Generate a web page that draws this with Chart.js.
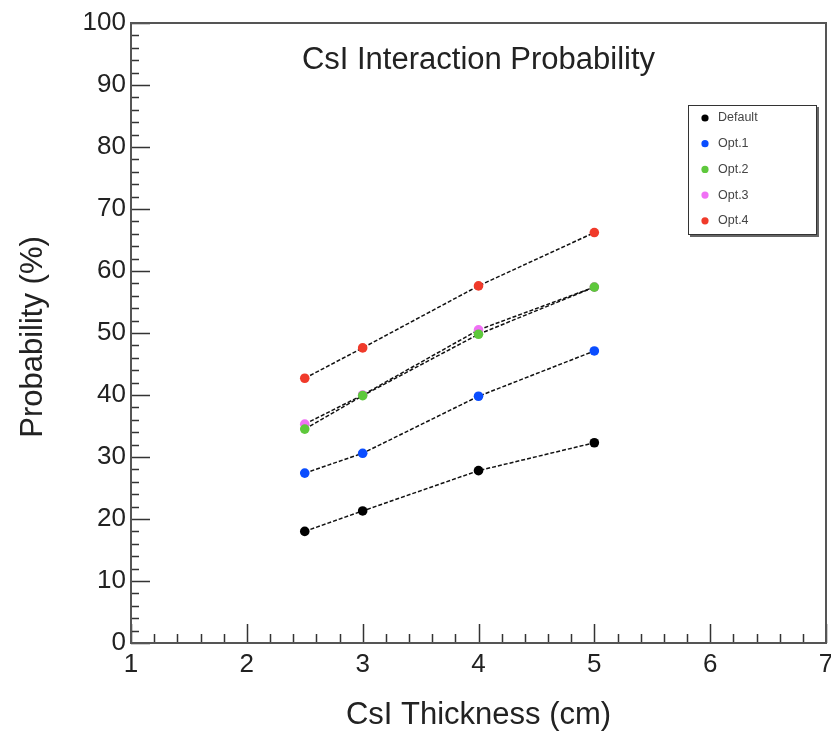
<!DOCTYPE html>
<html>
<head>
<meta charset="utf-8">
<script src="https://cdn.jsdelivr.net/npm/chart.js@4/dist/chart.umd.min.js"></script>
<style>
  html, body { margin: 0; padding: 0; background: #fff; }
  #wrap { position: relative; width: 831px; height: 735px; }
</style>
</head>
<body>
<div id="wrap"><canvas id="c" width="831" height="735"></canvas></div>
<script>
const thickness = [2.5, 3, 4, 5];
const seriesNames = ['Default', 'Opt.1', 'Opt.2', 'Opt.3', 'Opt.4'];
const defaultVals = [18.0, 21.3, 27.8, 32.3];
const opt1Vals = [27.4, 30.6, 39.8, 47.1];
const opt2Vals = [34.5, 39.9, 49.8, 57.4];
const opt3Vals = [35.3, 40.0, 50.5, 57.4];
const opt4Vals = [42.7, 47.6, 57.6, 66.2];
const seriesColors = ['#000000', '#0a4dff', '#5ec83c', '#f070f5', '#f03a2a'];
const xTicks = [1, 2, 3, 4, 5, 6, 7];
const yTicks = [0, 10, 20, 30, 40, 50, 60, 70, 80, 90, 100];

const allVals = [defaultVals, opt1Vals, opt2Vals, opt3Vals, opt4Vals];
const FONT = '"Liberation Sans", Arial, Helvetica, sans-serif';

const datasets = allVals.map((vals, i) => ({
  label: seriesNames[i],
  data: thickness.map((x, j) => ({ x: x, y: vals[j] })),
  borderColor: '#111',
  borderWidth: 1.5,
  borderDash: [4, 2],
  pointBackgroundColor: seriesColors[i],
  pointBorderColor: seriesColors[i],
  pointBorderWidth: 0,
  pointRadius: 4.8,
  tension: 0,
  fill: false
}));

const rootStyle = {
  id: 'rootStyle',
  afterDatasetsDraw(chart) {
    const ctx = chart.ctx;
    const a = chart.chartArea;
    const xs = chart.scales.x, ys = chart.scales.y;
    ctx.save();
    // inward ticks
    ctx.strokeStyle = '#333';
    ctx.lineWidth = 1.5;
    ctx.beginPath();
    for (let v = 1; v <= 7.0001; v += 0.2) {
      const px = Math.round(xs.getPixelForValue(v)) + 0.5;
      const major = Math.abs(v - Math.round(v)) < 1e-6;
      const len = major ? 19 : 9;
      ctx.moveTo(px, a.bottom);
      ctx.lineTo(px, a.bottom - len);
    }
    for (let v = 0; v <= 100.0001; v += 2) {
      const py = Math.round(ys.getPixelForValue(v)) + 0.5;
      const major = Math.abs(v % 10) < 1e-6;
      const len = major ? 19 : 8;
      ctx.moveTo(a.left, py);
      ctx.lineTo(a.left + len, py);
    }
    ctx.stroke();
    // frame
    ctx.strokeStyle = '#555';
    ctx.lineWidth = 2;
    ctx.strokeRect(a.left, a.top, a.right - a.left, a.bottom - a.top);

    // title
    ctx.fillStyle = '#222';
    ctx.font = '31px ' + FONT;
    ctx.textAlign = 'center';
    ctx.textBaseline = 'alphabetic';
    ctx.fillText('CsI Interaction Probability', (a.left + a.right) / 2, 69);

    // legend
    const lx = 688, ly = 105, lw = 129, lh = 130;
    ctx.fillStyle = '#666';
    ctx.fillRect(lx + 2, ly + 2, lw, lh);
    ctx.fillStyle = '#fff';
    ctx.fillRect(lx, ly, lw, lh);
    ctx.strokeStyle = '#333';
    ctx.lineWidth = 1;
    ctx.strokeRect(lx + 0.5, ly + 0.5, lw - 1, lh - 1);
    ctx.font = '12.5px ' + FONT;
    ctx.textAlign = 'left';
    ctx.textBaseline = 'middle';
    chart.data.datasets.forEach((ds, i) => {
      const ry = 118 + i * 25.7;
      ctx.fillStyle = ds.pointBackgroundColor;
      ctx.beginPath();
      ctx.arc(705, ry, 3.6, 0, Math.PI * 2);
      ctx.fill();
      ctx.fillStyle = '#444';
      ctx.fillText(ds.label, 718, ry);
    });

    // axis titles
    ctx.fillStyle = '#222';
    ctx.font = '31px ' + FONT;
    ctx.textAlign = 'center';
    ctx.textBaseline = 'alphabetic';
    ctx.fillText('CsI Thickness (cm)', (a.left + a.right) / 2, 724);
    ctx.save();
    ctx.translate(42, (a.top + a.bottom) / 2 + 4);
    ctx.rotate(-Math.PI / 2);
    ctx.fillText('Probability (%)', 0, 0);
    ctx.restore();
    ctx.restore();
  }
};

new Chart(document.getElementById('c'), {
  type: 'line',
  data: { datasets: datasets },
  options: {
    responsive: false,
    animation: false,
    devicePixelRatio: 1,
    layout: { padding: { left: 0, right: 5, top: 23, bottom: 0 } },
    plugins: { legend: { display: false }, tooltip: { enabled: false }, title: { display: false } },
    scales: {
      x: {
        type: 'linear',
        min: 1, max: 7,
        afterBuildTicks(scale) { scale.ticks = xTicks.map(v => ({ value: v })); },
        afterFit(scale) { scale.height = 92; scale.paddingLeft = 0; scale.paddingRight = 0; },
        grid: { display: false, drawTicks: false },
        border: { display: false },
        ticks: { color: '#222', font: { family: FONT, size: 26 }, padding: 6, maxRotation: 0 }
      },
      y: {
        type: 'linear',
        min: 0, max: 100,
        afterBuildTicks(scale) { scale.ticks = yTicks.map(v => ({ value: v })); },
        afterFit(scale) { scale.width = 131; scale.paddingTop = 0; scale.paddingBottom = 0; },
        grid: { display: false, drawTicks: false },
        border: { display: false },
        ticks: { color: '#222', font: { family: FONT, size: 26 }, padding: 5 }
      }
    }
  },
  plugins: [rootStyle]
});
</script>
</body>
</html>
